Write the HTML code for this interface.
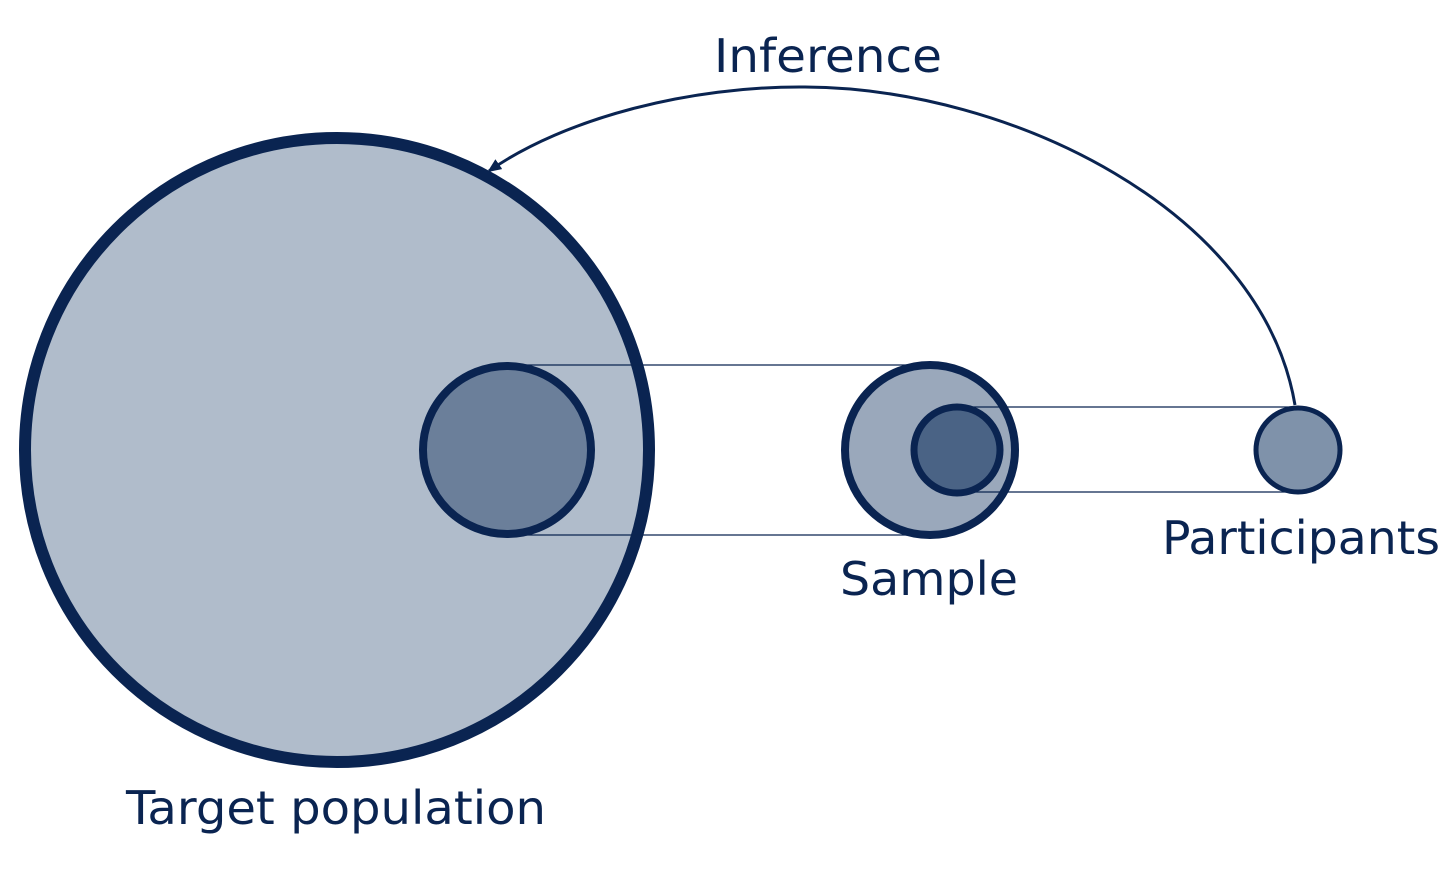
<!DOCTYPE html>
<html><head><style>html,body{margin:0;padding:0;background:#fff;}</style></head>
<body>
<svg width="1456" height="864" viewBox="0 0 1456 864" xmlns="http://www.w3.org/2000/svg">
<defs><marker id="a" markerWidth="14" markerHeight="12" refX="12" refY="6" orient="auto" markerUnits="userSpaceOnUse"><path d="M0,0 L14,6 L0,12 Z" fill="#0a2451"/></marker></defs>
<circle cx="337" cy="450" r="312" fill="#b0bccb" stroke="#0a2451" stroke-width="12"/>
<line x1="507" y1="365" x2="930" y2="365" stroke="#0a2451" stroke-width="1.2"/>
<line x1="507" y1="535" x2="930" y2="535" stroke="#0a2451" stroke-width="1.2"/>
<circle cx="507" cy="450" r="84" fill="#6b7f9a" stroke="#0a2451" stroke-width="8"/>
<circle cx="930" cy="450" r="85" fill="#9aa8bb" stroke="#0a2451" stroke-width="8"/>
<line x1="957" y1="407" x2="1298" y2="407" stroke="#0a2451" stroke-width="1.2"/>
<line x1="957" y1="492" x2="1298" y2="492" stroke="#0a2451" stroke-width="1.2"/>
<circle cx="957" cy="450" r="43" fill="#4a6385" stroke="#0a2451" stroke-width="7"/>
<circle cx="1298" cy="450" r="42" fill="#7f92aa" stroke="#0a2451" stroke-width="5"/>
<path d="M1295,405 C1262,210 1010,88 805,87 C690,86 565,118 489,171" fill="none" stroke="#0a2451" stroke-width="3" marker-end="url(#a)"/>
<g font-family="'DejaVu Sans','Liberation Sans',sans-serif" font-size="46" fill="#0a2451">
<text x="714" y="72" textLength="228" lengthAdjust="spacingAndGlyphs">Inference</text>
<text x="840" y="595" textLength="178" lengthAdjust="spacingAndGlyphs">Sample</text>
<text x="1162" y="554" textLength="278" lengthAdjust="spacingAndGlyphs">Participants</text>
<text x="126" y="824" textLength="420" lengthAdjust="spacingAndGlyphs">Target population</text>
</g>
</svg>
</body></html>
